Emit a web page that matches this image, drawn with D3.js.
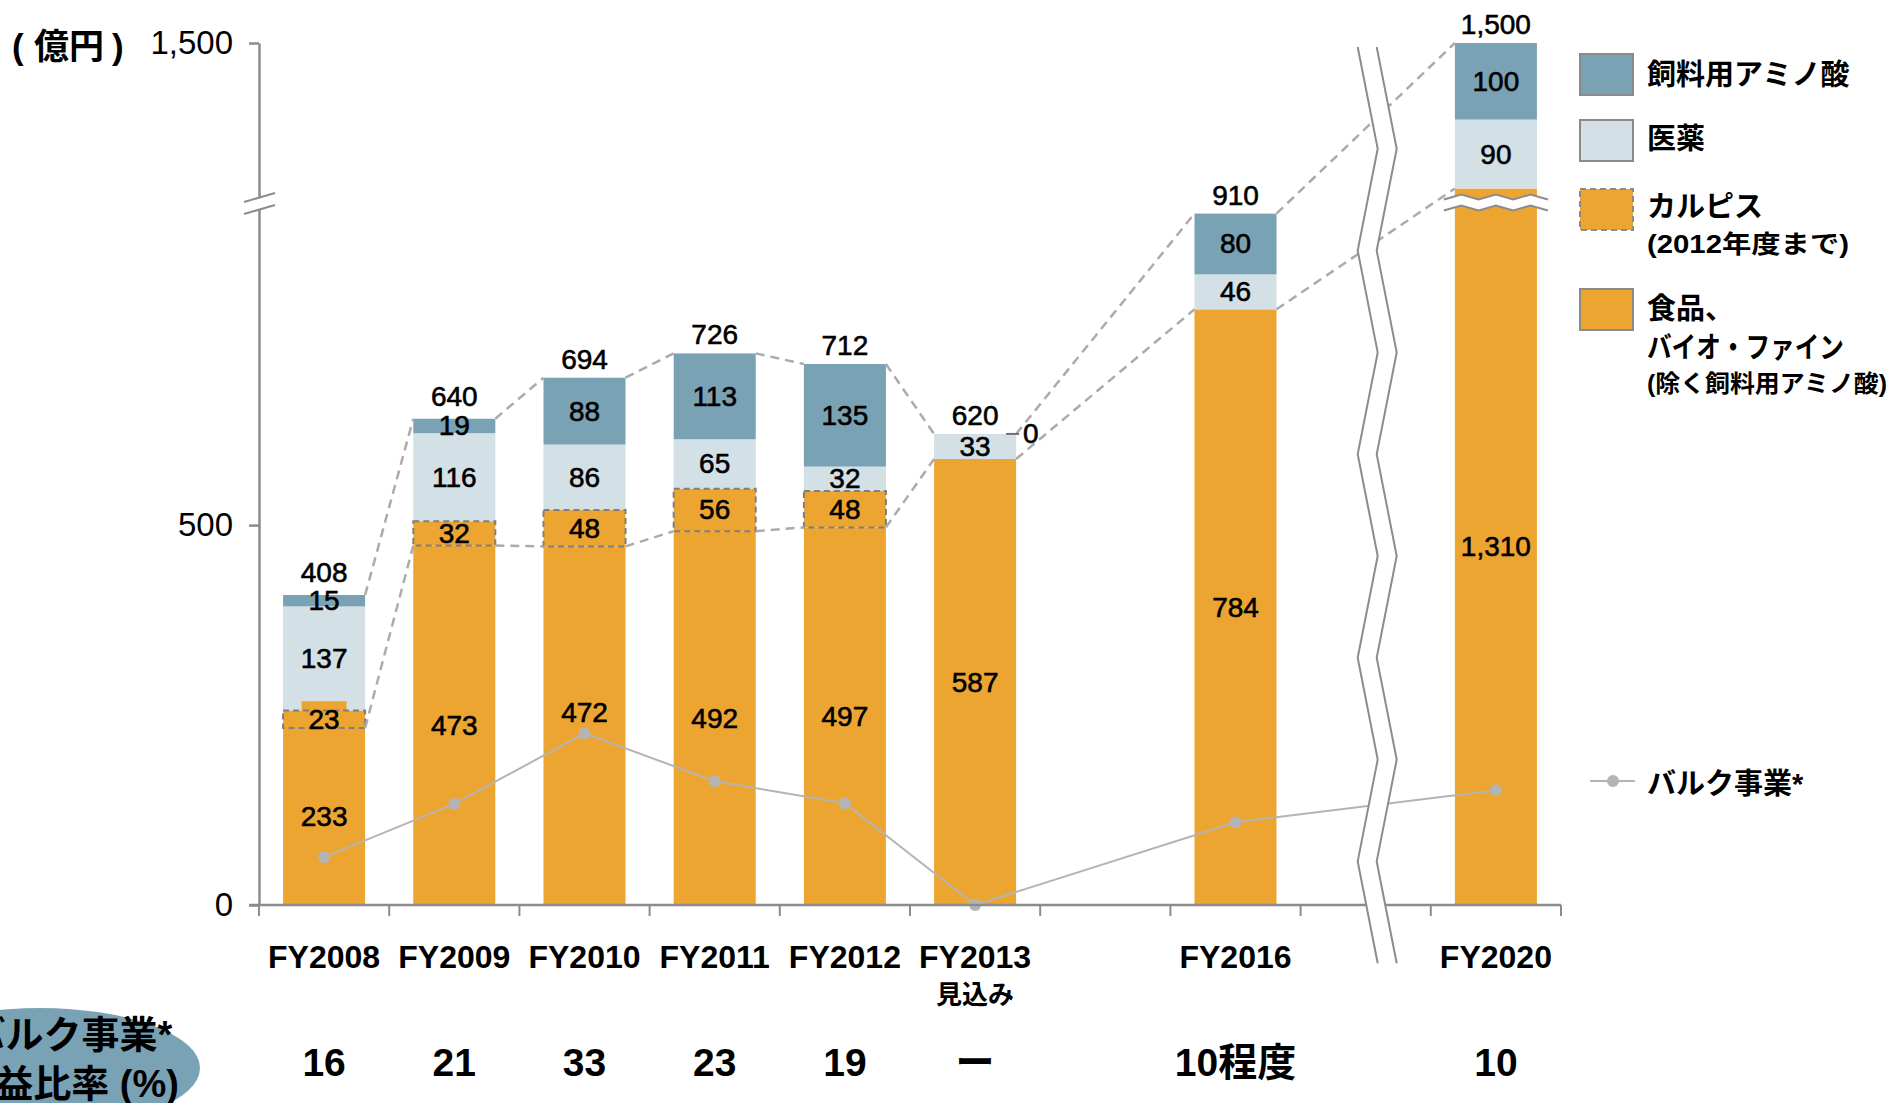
<!DOCTYPE html>
<html>
<head>
<meta charset="utf-8">
<script src="https://cdn.jsdelivr.net/npm/d3@7"></script>
<style>
body { margin: 0; background: #fff; }
text { font-family: 'Liberation Sans', 'Noto Sans CJK JP', sans-serif; fill: #000; }
.num { stroke: #000; stroke-width: 0.6px; }
</style>
</head>
<body>
<svg id="chart" width="1896" height="1103"></svg>
<script>
// values (億円)
let categories = ['FY2008', 'FY2009', 'FY2010', 'FY2011', 'FY2012', 'FY2013', 'FY2016', 'FY2020']
let foodBio = [233, 473, 472, 492, 497, 587, 784, 1310]
let calpis = [23, 32, 48, 56, 48, 0, 0, 0]
let pharma = [137, 116, 86, 65, 32, 33, 46, 90]
let feedAmino = [15, 19, 88, 113, 135, 0, 80, 100]
let totals = [408, 640, 694, 726, 712, 620, 910, 1500]
// bulk business line, read in left-axis units
let bulkLine = [63, 133, 226, 163, 134, 0, 109, 151]
let bulkRatio = ['16', '21', '33', '23', '19', 'ー', '10程度', '10']
let yTicks = [0, 500, 1500]
// x slots, with empty slots for the time gaps
let slots = ['FY2008', 'FY2009', 'FY2010', 'FY2011', 'FY2012', 'FY2013', 'gap1', 'FY2016', 'gap2', 'FY2020']

let colors = {
    food: '#EDA532',
    calpis: '#EDA532',
    pharma: '#D3E0E6',
    feed: '#79A3B5'
}
let grayAxis = '#8c8c8c'
let grayDash = '#ababab'
let grayBulk = '#b4b4b4'

let svg = d3.select('#chart')

let x = d3.scaleBand().domain(slots).range([259, 1561]).paddingInner(0.37).paddingOuter(0.185)
// broken axis: 0-920 and 1295-1500
let y = d3.scaleLinear().domain([0, 920, 1295, 1500]).range([905, 206, 200, 43])
let bw = x.bandwidth()
let cx = (c) => x(c) + bw / 2

let rows = categories.map((c, i) => ({
    cat: c, food: foodBio[i], calpis: calpis[i], pharma: pharma[i], feed: feedAmino[i]
}))
let keys = ['food', 'calpis', 'pharma', 'feed']
let layers = d3.stack().keys(keys)(rows)

// bars
layers.forEach(layer => {
    svg.append('g').selectAll('rect')
        .data(layer.filter(d => d[1] > d[0]))
        .enter()
        .append('rect')
        .attr('x', d => x(d.data.cat))
        .attr('y', d => y(d[1]))
        .attr('width', bw)
        .attr('height', d => y(d[0]) - y(d[1]))
        .attr('fill', colors[layer.key])
})

// small label background for calpis when the segment is thin
let calpisLayer = layers.find(l => l.key === 'calpis')
calpisLayer.forEach(d => {
    let h = y(d[0]) - y(d[1])
    if (h > 0 && h < 20) {
        let my = (y(d[0]) + y(d[1])) / 2
        svg.append('rect')
            .attr('x', cx(d.data.cat) - 22.5).attr('y', my - 18)
            .attr('width', 45).attr('height', 36)
            .attr('fill', colors.calpis)
    }
})

// calpis dashed frame
svg.append('g').selectAll('rect')
    .data(calpisLayer.filter(d => d[1] > d[0]))
    .enter()
    .append('rect')
    .attr('x', d => x(d.data.cat))
    .attr('y', d => y(d[1]))
    .attr('width', bw)
    .attr('height', d => y(d[0]) - y(d[1]))
    .attr('fill', 'none')
    .attr('stroke', '#7f7f7f')
    .attr('stroke-width', 2)
    .attr('stroke-dasharray', '6,4')

// break in the FY2020 bar
let wave = (base) => d3.range(7).map(i => [x('FY2020') - 11 + i * (bw + 22) / 6, base - (i % 2 ? 5 : 0)])
let wTop = wave(y(1310) + 11)
let wBot = wave(y(1310) + 22)
svg.append('path')
    .attr('d', d3.line()(wTop.concat(wBot.slice().reverse())) + 'Z')
    .attr('fill', '#fff')
;[wTop, wBot].forEach(pts => {
    svg.append('path').attr('d', d3.line()(pts))
        .attr('fill', 'none').attr('stroke', grayAxis).attr('stroke-width', 2)
})

// dashed connectors between bars
let drawConnector = (vals) => {
    let pts = categories.map((c, i) => ({ c: c, v: vals[i] }))
    d3.pairs(pts).forEach(([a, b]) => {
        svg.append('line')
            .attr('x1', x(a.c) + bw).attr('y1', y(a.v))
            .attr('x2', x(b.c)).attr('y2', y(b.v))
            .attr('stroke', grayDash)
            .attr('stroke-width', 2.5)
            .attr('stroke-dasharray', '9,6')
    })
}
drawConnector(totals)
drawConnector(foodBio)

// bulk line
let bulkPts = categories.map((c, i) => ({ c: c, v: bulkLine[i] }))
svg.append('path')
    .datum(bulkPts)
    .attr('d', d3.line().x(d => cx(d.c)).y(d => y(d.v)))
    .attr('fill', 'none')
    .attr('stroke', grayBulk)
    .attr('stroke-width', 2)
svg.append('g').selectAll('circle')
    .data(bulkPts)
    .enter()
    .append('circle')
    .attr('cx', d => cx(d.c))
    .attr('cy', d => y(d.v))
    .attr('r', 6)
    .attr('fill', grayBulk)

// axes
let yAxis = svg.append('g')
    .attr('transform', 'translate(259,0)')
    .call(d3.axisLeft(y).tickValues(yTicks).tickSize(10).tickSizeOuter(0).tickPadding(16).tickFormat(d3.format(',')))
yAxis.select('.domain').attr('stroke', grayAxis).attr('stroke-width', 2.5)
yAxis.selectAll('.tick line').attr('stroke', grayAxis).attr('stroke-width', 2.5)
yAxis.selectAll('.tick text').style('font-size', '33px').attr('fill', '#000')
    .style('font-family', "'Liberation Sans', sans-serif")

let bounds = slots.map(s => x(s) - x.step() * x.paddingInner() / 2)
bounds.push(x(slots[slots.length - 1]) + bw + x.step() * x.paddingInner() / 2)
svg.append('line')
    .attr('x1', 249).attr('x2', bounds[bounds.length - 1])
    .attr('y1', y(0)).attr('y2', y(0))
    .attr('stroke', grayAxis).attr('stroke-width', 2.5)
svg.append('g').selectAll('line')
    .data(bounds)
    .enter()
    .append('line')
    .attr('x1', d => d).attr('x2', d => d)
    .attr('y1', y(0)).attr('y2', y(0) + 11)
    .attr('stroke', grayAxis).attr('stroke-width', 2)

// break marks on the y axis
let yb = (y(920) + y(1295)) / 2
let ax = 259
let bp = [[ax - 15, yb - 1], [ax + 16, yb - 10], [ax + 16, yb + 2], [ax - 15, yb + 11]]
svg.append('path').attr('d', d3.line()(bp) + 'Z').attr('fill', '#fff')
svg.append('line').attr('x1', bp[0][0]).attr('y1', bp[0][1]).attr('x2', bp[1][0]).attr('y2', bp[1][1])
    .attr('stroke', grayAxis).attr('stroke-width', 2)
svg.append('line').attr('x1', bp[3][0]).attr('y1', bp[3][1]).attr('x2', bp[2][0]).attr('y2', bp[2][1])
    .attr('stroke', grayAxis).attr('stroke-width', 2)

// big zigzag break between FY2016 and FY2020
let zx = cx('gap2') + 12
let zig = (off) => d3.range(10).map(i => [zx - 10 + (i % 2 ? 10 : -10) + off, 47 + i * 101.8])
let zL = zig(0), zR = zig(19)
svg.append('path')
    .attr('d', d3.line()(zL.concat(zR.slice().reverse())) + 'Z')
    .attr('fill', '#fff')
;[zL, zR].forEach(pts => {
    svg.append('path').attr('d', d3.line()(pts))
        .attr('fill', 'none').attr('stroke', grayAxis).attr('stroke-width', 2)
})

// segment labels
let fmt = d3.format(',')
let labelShift = { 'FY2010-food': -13 }
layers.forEach(layer => {
    layer.forEach(d => {
        let v = d[1] - d[0]
        if (v <= 0) return
        let my = (y(d[0]) + y(d[1])) / 2 + (labelShift[d.data.cat + '-' + layer.key] || 0)
        svg.append('text')
            .attr('class', 'num')
            .attr('x', cx(d.data.cat))
            .attr('y', my)
            .attr('text-anchor', 'middle')
            .attr('dominant-baseline', 'central')
            .style('font-size', '28px')
            .text(fmt(v))
    })
})

// zero feed label for FY2013
let z13 = y(totals[5])
svg.append('line')
    .attr('x1', x('FY2013') + bw - 10).attr('x2', x('FY2013') + bw + 3)
    .attr('y1', z13).attr('y2', z13)
    .attr('stroke', '#707070').attr('stroke-width', 2)
svg.append('text')
    .attr('class', 'num')
    .attr('x', x('FY2013') + bw + 7).attr('y', z13)
    .attr('dominant-baseline', 'central')
    .style('font-size', '28px')
    .text('0')

// totals
categories.forEach((c, i) => {
    let thin = (y(totals[i] - feedAmino[i]) - y(totals[i])) < 20 && feedAmino[i] > 0
    svg.append('text')
        .attr('class', 'num')
        .attr('x', cx(c))
        .attr('y', y(totals[i]) - (thin ? 13 : 9))
        .attr('text-anchor', 'middle')
        .style('font-size', '28px')
        .text(fmt(totals[i]))
})

// x labels
categories.forEach((c, i) => {
    svg.append('text')
        .attr('x', cx(c)).attr('y', 957)
        .attr('text-anchor', 'middle').attr('dominant-baseline', 'central')
        .style('font-size', '32px').style('font-weight', 'bold')
        .text(c)
    svg.append('text')
        .attr('x', cx(c)).attr('y', 1062)
        .attr('text-anchor', 'middle').attr('dominant-baseline', 'central')
        .style('font-size', '39px').style('font-weight', 'bold')
        .text(bulkRatio[i])
})
svg.append('text')
    .attr('x', cx('FY2013')).attr('y', 995)
    .attr('text-anchor', 'middle').attr('dominant-baseline', 'central')
    .style('font-size', '26px').style('font-weight', 'bold')
    .text('見込み')

// unit label
let unit = svg.append('text')
    .attr('y', 46)
    .attr('dominant-baseline', 'central')
    .style('font-size', '35px').style('font-weight', 'bold')
unit.append('tspan').attr('x', 12).text('(')
unit.append('tspan').attr('x', 34).text('億円')
unit.append('tspan').attr('x', 112).text(')')

// ratio caption in an ellipse
svg.append('ellipse')
    .attr('cx', 40).attr('cy', 1068).attr('rx', 160).attr('ry', 60)
    .attr('fill', colors.feed)
svg.append('text')
    .attr('x', 70).attr('y', 1035)
    .attr('text-anchor', 'middle').attr('dominant-baseline', 'central')
    .style('font-size', '38px').style('font-weight', 'bold')
    .text('バルク事業*')
svg.append('text')
    .attr('x', 68).attr('y', 1084)
    .attr('text-anchor', 'middle').attr('dominant-baseline', 'central')
    .style('font-size', '38px').style('font-weight', 'bold')
    .text('利益比率 (%)')

// legend
let legend = [
    { fill: colors.feed, dash: null, top: 54, lines: [['飼料用アミノ酸', 29, 75, 1647, null]] },
    { fill: colors.pharma, dash: null, top: 120, lines: [['医薬', 29, 139, 1647, null]] },
    { fill: colors.calpis, dash: '6,4', top: 189, lines: [['カルピス', 29, 207, 1647, null], ['(2012年度まで)', 25, 244, 1647, 202]] },
    { fill: colors.food, dash: null, top: 289, lines: [['食品、', 29, 309, 1647, null], ['バイオ・ファイン', 29, 348, 1647, 197], ['(除く飼料用アミノ酸)', 24, 383, 1647, 240]] }
]
legend.forEach(item => {
    svg.append('rect')
        .attr('x', 1580).attr('y', item.top)
        .attr('width', 53).attr('height', 41)
        .attr('fill', item.fill)
        .attr('stroke', '#8a8a8a').attr('stroke-width', 2)
        .attr('stroke-dasharray', item.dash)
    item.lines.forEach(([t, fs, ly, lx, len]) => {
        let tx = svg.append('text')
            .attr('x', lx).attr('y', ly)
            .attr('dominant-baseline', 'central')
            .style('font-size', fs + 'px').style('font-weight', 'bold')
            .text(t)
        if (len) tx.attr('textLength', len).attr('lengthAdjust', 'spacingAndGlyphs')
    })
})
svg.append('line')
    .attr('x1', 1590).attr('x2', 1635).attr('y1', 781).attr('y2', 781)
    .attr('stroke', grayBulk).attr('stroke-width', 2)
svg.append('circle').attr('cx', 1613).attr('cy', 781).attr('r', 6).attr('fill', grayBulk)
svg.append('text')
    .attr('x', 1647).attr('y', 784)
    .attr('dominant-baseline', 'central')
    .style('font-size', '29px').style('font-weight', 'bold')
    .text('バルク事業*')
</script>
</body>
</html>
